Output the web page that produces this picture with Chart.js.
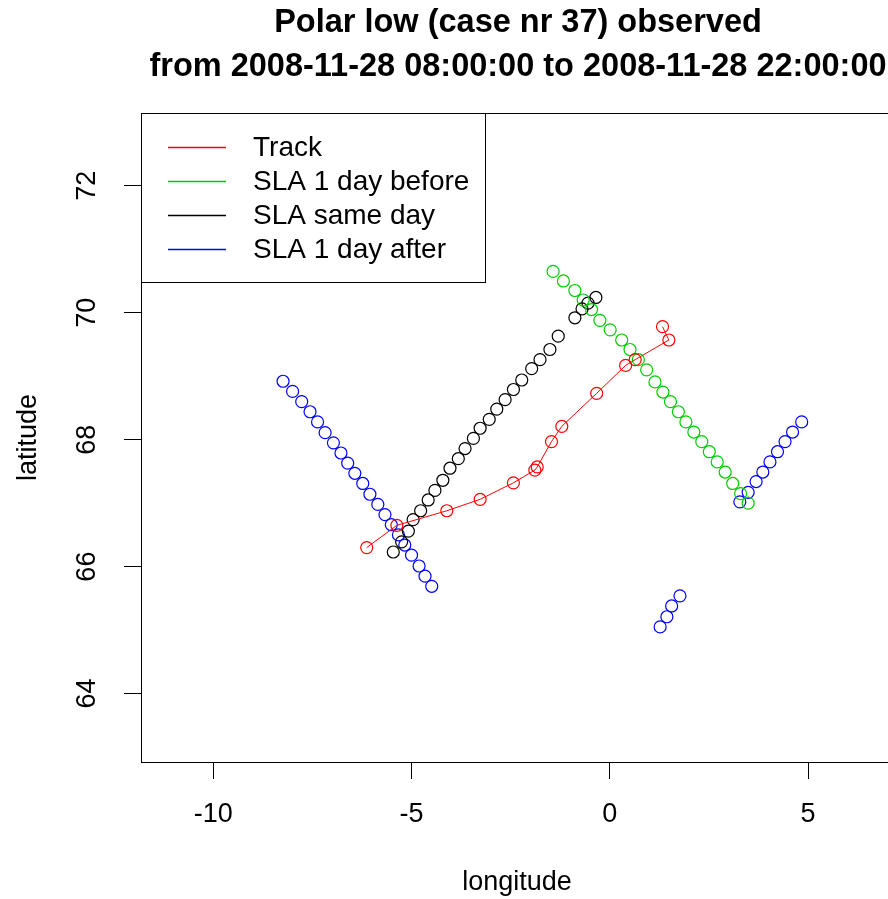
<!DOCTYPE html>
<html>
<head>
<meta charset="utf-8">
<title>Polar low (case nr 37)</title>
<script src="https://cdn.jsdelivr.net/npm/chart.js@4/dist/chart.umd.min.js"></script>
<style>
  html, body { margin: 0; padding: 0; background: #fff; overflow: hidden; }
  #wrap { position: relative; width: 905px; height: 899px; }
</style>
</head>
<body>
<div id="wrap"><canvas id="plCanvas"></canvas></div>
<script>
// Polar low track and SLA along-track points (longitude / latitude)
const titleLines = ["Polar low (case nr 37) observed", "from 2008-11-28 08:00:00 to 2008-11-28 22:00:00"];
const seriesNames = ["Track", "SLA 1 day before", "SLA same day", "SLA 1 day after"];
const xTickValues = [-10, -5, 0, 5];
const yTickValues = [64, 66, 68, 70, 72];

const trackLon = [-6.13, -5.37, -4.11, -3.27, -2.43, -1.89, -1.83, -1.47, -1.21, -0.33, 0.40, 0.64, 1.49, 1.33];
const trackLat = [66.30, 66.65, 66.88, 67.06, 67.32, 67.52, 67.57, 67.97, 68.21, 68.73, 69.17, 69.26, 69.57, 69.78];

const beforeLon = [-1.43, -1.17, -0.88, -0.67, -0.46, -0.25, 0.01, 0.30, 0.51, 0.72, 0.93, 1.14,
                   1.34, 1.53, 1.73, 1.92, 2.12, 2.32, 2.51, 2.71, 2.91, 3.10, 3.30, 3.49];
const beforeLat = [70.65, 70.50, 70.35, 70.20, 70.05, 69.88, 69.73, 69.57, 69.42, 69.26, 69.10, 68.91,
                   68.75, 68.60, 68.44, 68.28, 68.12, 67.97, 67.81, 67.65, 67.49, 67.31, 67.15, 67.00];

const sameLon = [-5.46, -5.25, -5.08, -4.96, -4.77, -4.58, -4.41, -4.21, -4.03, -3.82, -3.65, -3.44, -3.27,
                 -3.04, -2.85, -2.64, -2.43, -2.22, -1.97, -1.76, -1.51, -1.30,
                 -0.88, -0.70, -0.55, -0.35];
const sameLat = [66.23, 66.39, 66.56, 66.74, 66.88, 67.05, 67.20, 67.36, 67.55, 67.70, 67.86, 68.02, 68.18,
                 68.32, 68.48, 68.63, 68.79, 68.94, 69.12, 69.26, 69.42, 69.63,
                 69.92, 70.06, 70.15, 70.24];

const afterLon = [-8.24, -8.00, -7.77, -7.56, -7.37, -7.18, -6.97, -6.78, -6.61, -6.43, -6.23, -6.05, -5.85,
                  -5.67, -5.51, -5.33, -5.17, -5.00, -4.81, -4.66, -4.49,
                  3.28, 3.49, 3.69, 3.86, 4.04, 4.23, 4.42, 4.61, 4.84,
                  1.27, 1.44, 1.56, 1.77];
const afterLat = [68.92, 68.76, 68.60, 68.44, 68.28, 68.11, 67.95, 67.79, 67.63, 67.47, 67.31, 67.14, 66.98,
                  66.82, 66.66, 66.50, 66.34, 66.18, 66.01, 65.85, 65.69,
                  67.02, 67.17, 67.34, 67.49, 67.65, 67.81, 67.97, 68.12, 68.28,
                  65.05, 65.21, 65.38, 65.54];

const colors = ['#ff0000', '#00cd00', '#000000', '#0000ff'];
const FONT = '"Liberation Sans", Arial, Helvetica, sans-serif';

function toPoints(lon, lat) {
  return lon.map((x, i) => ({ x: x, y: lat[i] }));
}

function makeSet(i, lon, lat, line) {
  return {
    label: seriesNames[i],
    data: toPoints(lon, lat),
    borderColor: colors[i],
    backgroundColor: 'rgba(0,0,0,0)',
    pointBorderColor: colors[i],
    pointBackgroundColor: 'rgba(0,0,0,0)',
    pointRadius: 6,
    pointBorderWidth: 1.2,
    borderWidth: 1,
    showLine: line
  };
}

// title, plot frame and the boxed legend in the top left corner
const framePlugin = {
  id: 'frame',
  afterDraw(chart) {
    const ctx = chart.ctx;
    const a = chart.chartArea;
    ctx.save();
    ctx.strokeStyle = '#000';
    ctx.lineWidth = 1;
    ctx.strokeRect(Math.round(a.left) + 0.5, Math.round(a.top) + 0.5,
                   Math.round(a.right - a.left), Math.round(a.bottom - a.top));

    // legend
    const lx = Math.round(a.left) + 0.5, ly = Math.round(a.top) + 0.5;
    ctx.fillStyle = '#fff';
    ctx.fillRect(lx, ly, 344, 169);
    ctx.strokeRect(lx, ly, 344, 169);
    ctx.font = '28px ' + FONT;
    ctx.textAlign = 'left';
    ctx.textBaseline = 'middle';
    seriesNames.forEach((name, i) => {
      const yy = Math.round(a.top + 34 + i * 34) + 0.5;
      ctx.strokeStyle = colors[i];
      ctx.lineWidth = 1.5;
      ctx.beginPath();
      ctx.moveTo(a.left + 27, yy);
      ctx.lineTo(a.left + 85, yy);
      ctx.stroke();
      ctx.fillStyle = '#000';
      ctx.fillText(name, a.left + 112, yy + 1);
    });

    // main title
    ctx.font = 'bold 32.5px ' + FONT;
    ctx.textAlign = 'center';
    ctx.fillStyle = '#000';
    const cx = (a.left + a.right) / 2 + 1;
    ctx.fillText(titleLines[0], cx, 23);
    ctx.fillText(titleLines[1], cx, 67);
    ctx.restore();
  }
};

const ctx = document.getElementById('plCanvas').getContext('2d');
const plChart = new Chart(ctx, {
  type: 'scatter',
  data: {
    datasets: [
      makeSet(0, trackLon, trackLat, true),
      makeSet(1, beforeLon, beforeLat, false),
      makeSet(2, sameLon, sameLat, false),
      makeSet(3, afterLon, afterLat, false)
    ]
  },
  options: {
    responsive: true,
    maintainAspectRatio: false,
    animation: false,
    layout: { padding: { top: 113, right: 12, bottom: 0, left: 0 } },
    plugins: {
      legend: { display: false },
      tooltip: { enabled: false }
    },
    scales: {
      x: {
        type: 'linear',
        min: -11.823,
        max: 7.143,
        afterBuildTicks: (s) => { s.ticks = xTickValues.map(v => ({ value: v })); },
        afterFit: (s) => { s.height = 137; },
        border: { display: false },
        grid: { display: true, drawOnChartArea: false, drawTicks: true, tickLength: 17, tickColor: '#000', tickWidth: 1 },
        ticks: { color: '#000', font: { family: FONT, size: 27 }, padding: 19, maxRotation: 0 },
        title: { display: true, text: 'longitude', color: '#000', font: { family: FONT, size: 27 }, padding: { top: 0, bottom: 0 } }
      },
      y: {
        type: 'linear',
        min: 62.922,
        max: 73.146,
        afterBuildTicks: (s) => { s.ticks = yTickValues.map(v => ({ value: v })); },
        afterFit: (s) => { s.width = 141; },
        border: { display: false },
        grid: { display: true, drawOnChartArea: false, drawTicks: true, tickLength: 17, tickColor: '#000', tickWidth: 1 },
        ticks: { color: '#000', font: { family: FONT, size: 27 }, padding: 21, minRotation: 90, maxRotation: 90, crossAlign: 'center' },
        title: { display: true, text: 'latitude', color: '#000', font: { family: FONT, size: 27 }, padding: { top: 12, bottom: 0 } }
      }
    }
  },
  plugins: [framePlugin]
});
</script>
</body>
</html>
